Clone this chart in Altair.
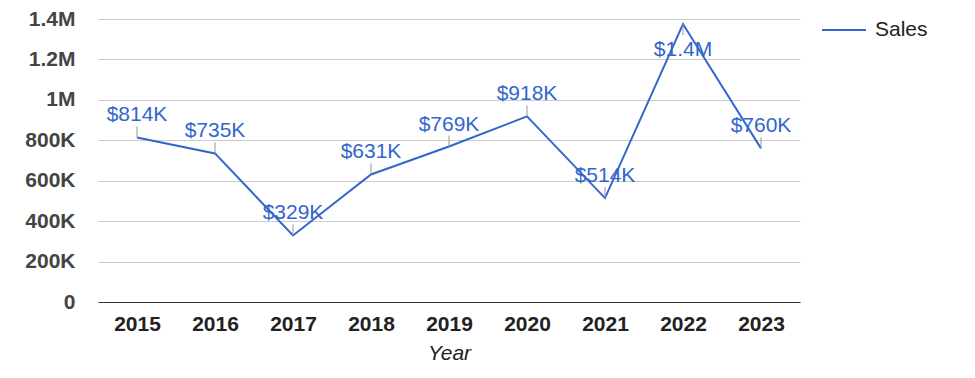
import altair as alt
import pandas as pd

years = ["2015", "2016", "2017", "2018", "2019", "2020", "2021", "2022", "2023"]
sales = [814000, 735000, 329000, 631000, 769000, 918000, 514000, 1375000, 760000]
labels = ["$814K", "$735K", "$329K", "$631K", "$769K", "$918K", "$514K", "$1.4M", "$760K"]
series_name = "Sales"
y_ticks = list(range(0, 1400001, 100000))

df = pd.DataFrame({"Year": years, "Sales": sales, "Label": labels,
                   "Series": [series_name] * len(years)})

FONT = "Arial, Liberation Sans, sans-serif"
BLUE = "#3366CC"
# labels too close to the top of the plot are drawn below their point
NEAR_TOP = "datum.Sales > 1300000"

x_enc = alt.X(
    "Year:N", sort=years,
    scale=alt.Scale(type="point", padding=0.5),
    axis=alt.Axis(
        title="Year", titleFontStyle="italic", titleFontWeight="normal",
        titleFontSize=21, titleColor="#222222", titleFont=FONT, titlePadding=8,
        labelFontSize=21, labelFontWeight="bold", labelColor="#222222", labelFont=FONT,
        labelAngle=0, labelPadding=11, ticks=False, grid=False,
        domainColor="#333333", domainWidth=1, zindex=1,
    ),
)

y_enc = alt.Y(
    "Sales:Q",
    scale=alt.Scale(domain=[0, 1400000], nice=False, zero=True),
    axis=alt.Axis(
        title=None, values=y_ticks, labelOverlap=False, ticks=False, domain=False,
        labelExpr=("datum.value % 200000 != 0 ? '' : (datum.value == 0 ? '0' : "
                   "(datum.value >= 1000000 ? format(datum.value / 1000000, '~g') + 'M' : "
                   "format(datum.value / 1000, 'd') + 'K'))"),
        labelFontSize=21, labelFontWeight="bold", labelColor="#444444", labelFont=FONT,
        labelPadding=23,
        gridColor={"condition": {"test": "datum.value % 200000 == 0", "value": "#cccccc"},
                   "value": "#ebebeb"},
        gridWidth=1,
    ),
)

xs = alt.X("Year:N", sort=years)

line = alt.Chart(df).mark_line(strokeWidth=2).encode(
    x=x_enc, y=y_enc,
    color=alt.Color(
        "Series:N", scale=alt.Scale(range=[BLUE]),
        legend=alt.Legend(
            title=None, orient="none", legendX=723, legendY=-12,
            symbolType="stroke", symbolSize=1936, symbolStrokeWidth=2,
            labelFontSize=21, labelColor="#222222", labelFont=FONT,
            padding=0, labelOffset=8,
        ),
    ),
)

stems_up = alt.Chart(df).transform_filter("!(" + NEAR_TOP + ")").mark_rule(
    color="#999999", strokeWidth=1, y2Offset=-11,
).encode(x=xs, y="Sales:Q", y2=alt.Y2("Sales"))

stems_down = alt.Chart(df).transform_filter(NEAR_TOP).mark_rule(
    color="#999999", strokeWidth=1, y2Offset=11,
).encode(x=xs, y="Sales:Q", y2=alt.Y2("Sales"))

text_up = alt.Chart(df).transform_filter("!(" + NEAR_TOP + ")").mark_text(
    dy=-16, baseline="alphabetic", align="center", fontSize=21, font=FONT, color=BLUE,
).encode(x=xs, y="Sales:Q", text="Label:N")

text_down = alt.Chart(df).transform_filter(NEAR_TOP).mark_text(
    dy=32, baseline="alphabetic", align="center", fontSize=21, font=FONT, color=BLUE,
).encode(x=xs, y="Sales:Q", text="Label:N")

chart = alt.layer(line, stems_up, stems_down, text_up, text_down).properties(
    width=702, height=283,
    autosize=alt.AutoSizeParams(type="none"),
    padding={"left": 90, "top": 11, "right": 160, "bottom": 66},
).configure(font=FONT).configure_view(stroke=None)

chart.save("out.html", embed_options={"renderer": "svg", "actions": False})
